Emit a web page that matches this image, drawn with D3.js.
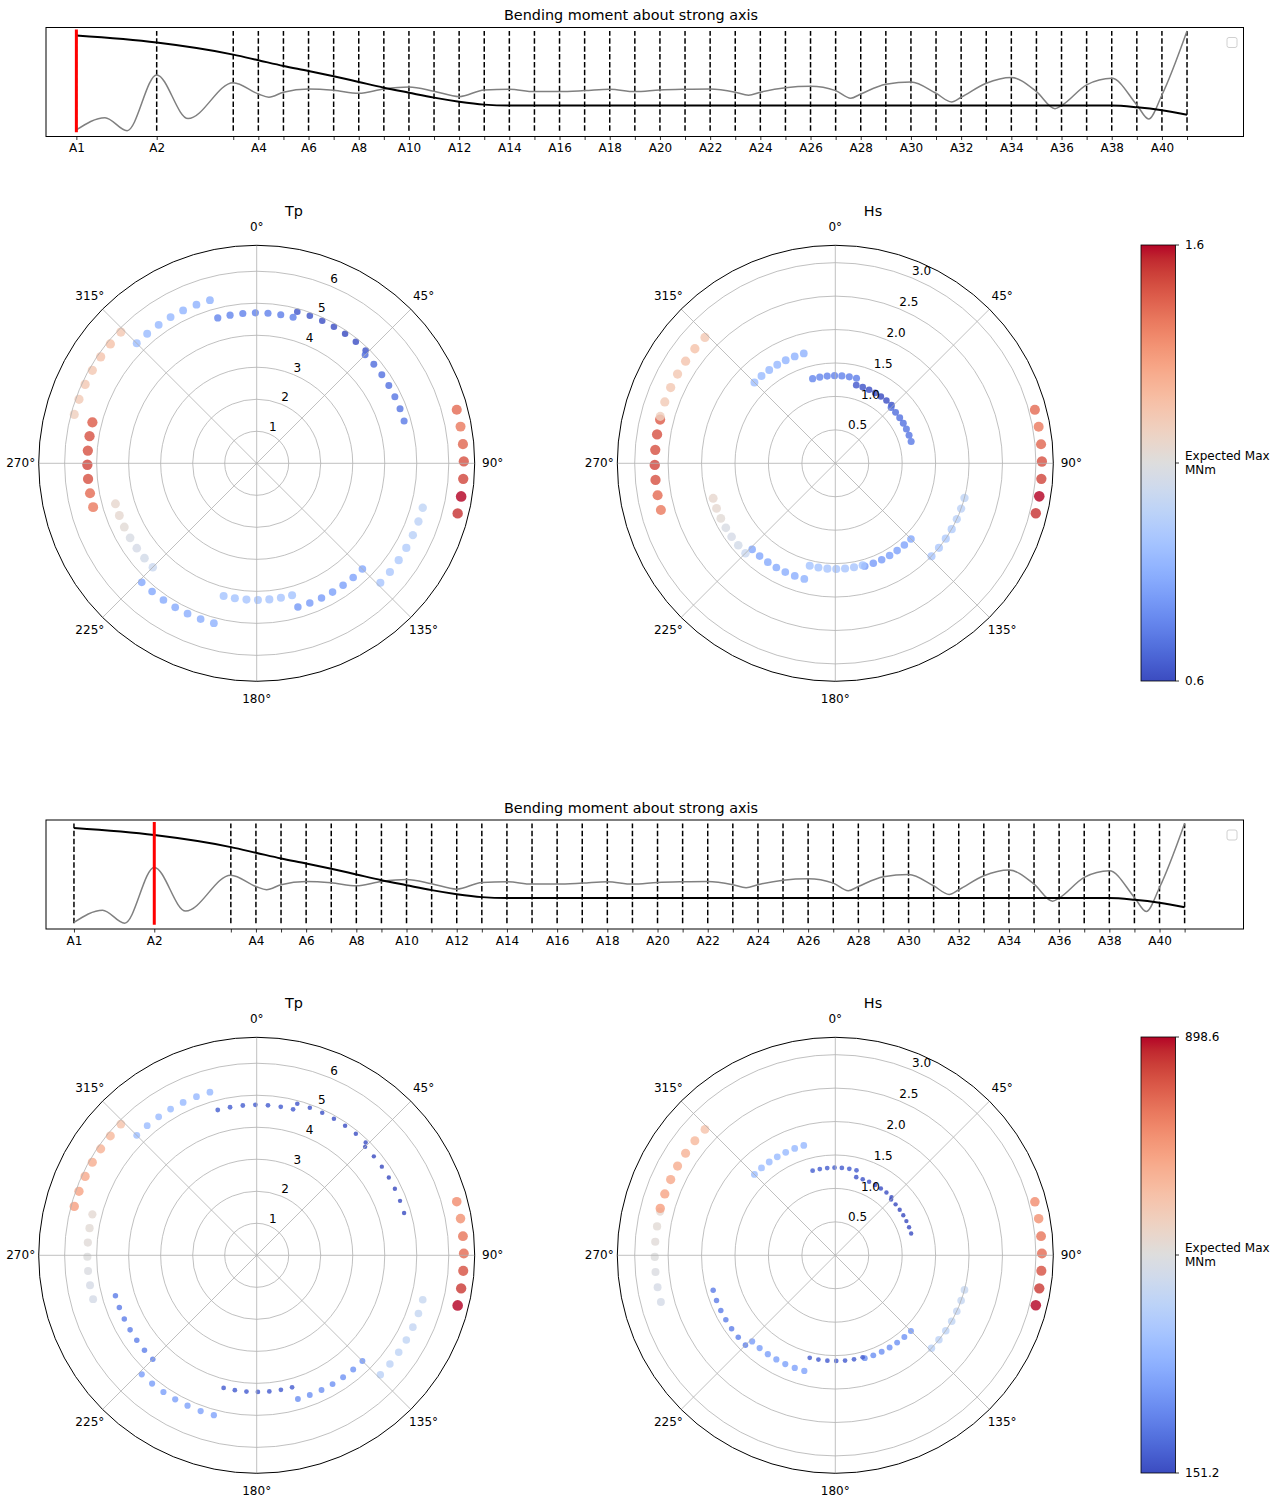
<!DOCTYPE html>
<html><head><meta charset="utf-8">
<script src="https://cdn.jsdelivr.net/npm/d3@7"></script>
<style>
body{margin:0;background:#fff}
text{font-family:"DejaVu Sans",sans-serif;fill:#000}
</style>
</head><body>
<svg id="c" width="1287" height="1499"></svg>
<script>
// ---------------- DATA ----------------
const stations = ["A1","A2","A3","A4","A5","A6","A7","A8","A9","A10","A11","A12","A13","A14","A15","A16","A17","A18","A19","A20","A21","A22","A23","A24","A25","A26","A27","A28","A29","A30","A31","A32","A33","A34","A35","A36","A37","A38","A39","A40","A41"];
const stationPos = [0,3.2,6.25,7.25,8.25,9.25,10.25,11.25,12.25,13.25,14.25,15.25,16.25,17.25,18.25,19.25,20.25,21.25,22.25,23.25,24.25,25.25,26.25,27.25,28.25,29.25,30.25,31.25,32.25,33.25,34.25,35.25,36.25,37.25,38.25,39.25,40.25,41.25,42.25,43.25,44.25];
const tickLabels = ["A1","A2","","A4","","A6","","A8","","A10","","A12","","A14","","A16","","A18","","A20","","A22","","A24","","A26","","A28","","A30","","A32","","A34","","A36","","A38","","A40",""];
const blackLine = [0.968,0.897,0.775,0.718,0.660,0.610,0.556,0.498,0.440,0.389,0.339,0.298,0.268,0.258,0.258,0.258,0.258,0.258,0.258,0.258,0.258,0.258,0.258,0.258,0.258,0.258,0.258,0.258,0.258,0.258,0.258,0.258,0.258,0.258,0.258,0.258,0.258,0.258,0.241,0.211,0.166];
const grayX = [0,1.14,2.02,3.2,4.45,6.25,7.25,7.67,8.25,9.25,10.25,11.25,12.25,13.25,14.25,15.25,16.25,17.25,18.25,19.25,20.25,21.25,22.25,23.25,24.25,25.25,26.25,26.78,27.25,28.25,29.25,30.25,30.85,31.25,32.25,33.25,34.25,34.87,35.25,36.25,37.25,38.25,38.99,39.25,40.25,41.25,42.25,42.72,43.25,44.25];
const grayY = [0.011,0.136,0.004,0.569,0.126,0.491,0.376,0.343,0.394,0.427,0.414,0.383,0.427,0.447,0.404,0.349,0.417,0.424,0.400,0.400,0.410,0.424,0.400,0.417,0.424,0.427,0.394,0.363,0.394,0.440,0.454,0.410,0.333,0.376,0.475,0.498,0.383,0.295,0.343,0.485,0.542,0.400,0.227,0.258,0.468,0.535,0.265,0.123,0.366,1.015];
const selectedStations = ["A1","A2"];
const chartTitle = "Bending moment about strong axis";

const directions = [
 345,349.8,354.7,359.5,4.3,9.2,14,
 15,19.8,24.7,29.5,34.3,39.2,44,
 45,49.8,54.7,59.5,64.3,69.2,74,
 75,79.8,84.7,89.5,94.3,99.2,104,
 105,109.8,114.7,119.5,124.3,129.2,134,
 135,139.8,144.7,149.5,154.3,159.2,164,
 165,169.8,174.7,179.5,184.3,189.2,194,
 195,199.8,204.7,209.5,214.3,219.2,224,
 225,229.8,234.7,239.5,244.3,249.2,254,
 255,259.8,264.7,269.5,274.3,279.2,284,
 285,289.8,294.7,299.5,304.3,309.2,314,
 315,319.8,324.7,329.5,334.3,339.2,344];
const tp = [
 4.70,4.70,4.70,4.70,4.70,4.70,4.70,
 4.90,4.90,4.90,4.90,4.90,4.90,4.90,
 4.79,4.79,4.79,4.79,4.79,4.79,4.79,
 6.47,6.47,6.47,6.47,6.47,6.47,6.47,
 5.37,5.37,5.37,5.37,5.37,5.37,5.37,
 4.67,4.67,4.67,4.67,4.67,4.67,4.67,
 4.27,4.27,4.27,4.27,4.27,4.27,4.27,
 5.17,5.17,5.17,5.17,5.17,5.17,5.17,
 4.59,4.59,4.59,4.59,4.59,4.59,4.59,
 5.29,5.29,5.29,5.29,5.29,5.29,5.29,
 5.90,5.90,5.90,5.90,5.90,5.90,5.90,
 5.30,5.30,5.30,5.30,5.30,5.30,5.30];
const hs = [
 1.31,1.31,1.31,1.31,1.31,1.31,1.31,
 1.21,1.21,1.21,1.21,1.21,1.21,1.21,
 1.18,1.18,1.18,1.18,1.18,1.18,1.18,
 3.09,3.09,3.09,3.09,3.09,3.09,3.09,
 2.00,2.00,2.00,2.00,2.00,2.00,2.00,
 1.60,1.60,1.60,1.60,1.60,1.60,1.60,
 1.58,1.58,1.58,1.58,1.58,1.58,1.58,
 1.79,1.79,1.79,1.79,1.79,1.79,1.79,
 1.90,1.90,1.90,1.90,1.90,1.90,1.90,
 2.70,2.70,2.70,2.70,2.70,2.70,2.70,
 2.71,2.71,2.71,2.71,2.71,2.71,2.71,
 1.71,1.71,1.71,1.71,1.71,1.71,1.71];
const momentA1 = [
 0.74,0.74,0.73,0.73,0.73,0.72,0.72,
 0.63,0.62,0.61,0.61,0.60,0.61,0.62,
 0.68,0.68,0.69,0.69,0.70,0.70,0.71,
 1.45,1.42,1.46,1.50,1.52,1.60,1.55,
 1.00,0.99,0.98,0.96,0.95,0.94,0.93,
 0.83,0.82,0.81,0.81,0.80,0.80,0.79,
 0.92,0.93,0.93,0.93,0.93,0.92,0.92,
 0.86,0.85,0.85,0.84,0.84,0.83,0.83,
 1.03,1.06,1.07,1.08,1.12,1.13,1.14,
 1.42,1.45,1.50,1.52,1.50,1.50,1.48,
 1.18,1.20,1.21,1.21,1.22,1.23,1.21,
 0.90,0.89,0.88,0.88,0.87,0.86,0.86];
const momentA2 = [
 186,185,184,183,182,181,180,
 170,168,165,163,160,158,156,
 155,153,152,151.2,152,153,155,
 734,726,771,786,824,854,898.6,
 470,465,460,455,450,445,440,
 285,283,281,279,277,275,273,
 182,181,180,180,180,181,182,
 315,313,311,309,307,305,303,
 245,244,243,242,241,240,239,
 500,505,515,525,535,540,545,
 700,690,680,670,660,645,620,
 375,372,370,368,366,364,362];
const cbRangeA1 = [0.6, 1.6];
const cbLabelsA1 = ["0.6", "1.6"];
const cbRangeA2 = [151.2, 898.6];
const cbLabelsA2 = ["151.2", "898.6"];
const cbMidLabel = ["Expected Max", "MNm"];
const tpTicks = [1,2,3,4,5,6];
const hsTicks = [0.5,1.0,1.5,2.0,2.5,3.0];
const thetaTicks = [0,45,90,135,180,225,270,315];

// ---------------- COLORMAP (coolwarm) ----------------
const CW = [[59,76,192],[68,90,204],[77,104,215],[87,117,225],[98,130,234],[108,142,241],[119,154,247],[130,165,251],[141,176,254],[152,185,255],[163,194,255],[174,201,253],[184,208,249],[194,213,244],[204,217,238],[213,219,230],[221,221,221],[229,216,209],[236,211,197],[241,204,185],[245,196,173],[247,187,160],[247,177,148],[247,166,135],[244,154,123],[241,141,111],[236,127,99],[229,112,88],[222,96,77],[213,80,66],[203,62,56],[192,40,47],[180,4,38]];
function coolwarm(t){
  t = Math.max(0, Math.min(1, t));
  const n = CW.length - 1;
  const i = Math.min(n - 1, Math.floor(t * n));
  const f = t * n - i;
  const a = CW[i], b = CW[i+1];
  return `rgb(${Math.round(a[0]+(b[0]-a[0])*f)},${Math.round(a[1]+(b[1]-a[1])*f)},${Math.round(a[2]+(b[2]-a[2])*f)})`;
}

const svg = d3.select("#c");
svg.append("rect").attr("width",1287).attr("height",1499).attr("fill","#fff");

// ---------------- LINE CHART ----------------
function lineChart(oy, xDomain, selected){
  const box = {x0:46, x1:1243.5, y0:27.5+oy, y1:136.5+oy};
  const g = svg.append("g");
  const x = d3.scaleLinear().domain(xDomain).range([box.x0, box.x1]);
  const y = d3.scaleLinear().domain([-0.0553, 1.0502]).range([box.y1, box.y0]);
  const clip = "clip"+Math.round(oy);
  g.append("clipPath").attr("id",clip).append("rect")
    .attr("x",box.x0).attr("y",box.y0).attr("width",box.x1-box.x0).attr("height",box.y1-box.y0);
  const inner = g.append("g").attr("clip-path",`url(#${clip})`);
  const gmin = d3.min(grayY), gmax = d3.max(grayY);
  inner.selectAll("line.st").data(stationPos).join("line")
    .attr("x1",d=>x(d)).attr("x2",d=>x(d)).attr("y1",y(gmin)).attr("y2",y(gmax))
    .attr("stroke","#000").attr("stroke-width",1.5).attr("stroke-dasharray","5.5,2.4");
  const grayPts = grayX.map((d,i)=>[d,grayY[i]]);
  inner.append("path").attr("d", d3.line().x(d=>x(d[0])).y(d=>y(d[1])).curve(d3.curveMonotoneX)(grayPts))
    .attr("fill","none").attr("stroke","#808080").attr("stroke-width",1.5);
  const blackPts = stationPos.map((d,i)=>[d,blackLine[i]]);
  inner.append("path").attr("d", d3.line().x(d=>x(d[0])).y(d=>y(d[1])).curve(d3.curveMonotoneX)(blackPts))
    .attr("fill","none").attr("stroke","#000").attr("stroke-width",2);
  const si = stations.indexOf(selected);
  inner.append("line").attr("x1",x(stationPos[si])).attr("x2",x(stationPos[si]))
    .attr("y1",y(gmin)+1.5).attr("y2",y(gmax)-1.5).attr("stroke","#ff0000").attr("stroke-width",3);
  g.append("rect").attr("x",box.x0).attr("y",box.y0).attr("width",box.x1-box.x0).attr("height",box.y1-box.y0)
    .attr("fill","none").attr("stroke","#000").attr("stroke-width",1);
  const ax = d3.axisBottom(x).tickValues(stationPos).tickFormat((d,i)=>tickLabels[i]).tickSize(3.5).tickPadding(3.5);
  const axg = g.append("g").attr("transform",`translate(0,${box.y1})`).call(ax);
  axg.select(".domain").remove();
  axg.selectAll("text").attr("font-size",12).attr("font-family","DejaVu Sans").attr("fill","#000");
  axg.selectAll("line").attr("stroke","#000").attr("stroke-width",0.8);
  g.append("rect").attr("x",1227).attr("y",box.y0+10).attr("width",10).attr("height",10).attr("rx",2)
    .attr("fill","#fff").attr("stroke","#d0d0d0").attr("stroke-width",1);
  g.append("text").attr("x",631).attr("y",box.y0-12.5).attr("text-anchor","middle")
    .attr("dominant-baseline","central").attr("font-size",14.4).text(chartTitle);
}

// ---------------- POLAR ----------------
function polar(cx, cy, rmax, radius, rTicks, rFmt, values, vmin, vmax, title, tx, ty){
  const R = 218;
  const g = svg.append("g");
  const rs = d3.scaleLinear().domain([0, rmax]).range([0, R]);
  const rad = d => d*Math.PI/180;
  const px = (th, rp) => cx + rp*Math.sin(rad(th));
  const py = (th, rp) => cy - rp*Math.cos(rad(th));
  const cs = d3.scaleLinear().domain([vmin, vmax]).range([0,1]);
  const sz = v => 5.3*Math.sqrt(v/vmax);
  const pts = directions.map((d,i)=>({th:d, r:radius[i], v:values[i]}));
  g.selectAll("circle.pt").data(pts).join("circle")
    .attr("cx",d=>px(d.th, rs(d.r))).attr("cy",d=>py(d.th, rs(d.r)))
    .attr("r",d=>sz(d.v)).attr("fill",d=>coolwarm(cs(d.v))).attr("fill-opacity",0.82);
  g.selectAll("circle.ring").data(rTicks).join("circle")
    .attr("cx",cx).attr("cy",cy).attr("r",d=>rs(d)).attr("fill","none")
    .attr("stroke","#b0b0b0").attr("stroke-width",0.8);
  g.selectAll("line.sp").data(thetaTicks).join("line")
    .attr("x1",cx).attr("y1",cy).attr("x2",d=>px(d,R)).attr("y2",d=>py(d,R))
    .attr("stroke","#b0b0b0").attr("stroke-width",0.8);
  g.append("circle").attr("cx",cx).attr("cy",cy).attr("r",R).attr("fill","none")
    .attr("stroke","#000").attr("stroke-width",1);
  g.selectAll("text.th").data(thetaTicks).join("text")
    .attr("x",d=>px(d,R+18)).attr("y",d=>py(d,R+18)).attr("text-anchor","middle")
    .attr("dominant-baseline","central").attr("font-size",12).text(d=>d+"°");
  g.selectAll("text.rl").data(rTicks).join("text")
    .attr("x",d=>px(22.5,rs(d))).attr("y",d=>py(22.5,rs(d))-3).attr("text-anchor","start")
    .attr("font-size",12).text(rFmt);
  g.append("text").attr("x",tx).attr("y",ty).attr("text-anchor","middle")
    .attr("dominant-baseline","central").attr("font-size",14.4).text(title);
}

// ---------------- COLORBAR ----------------
function colorbar(y0, y1, range, labels, id){
  const x0 = 1141, x1 = 1175.5;
  const defs = svg.append("defs");
  const grad = defs.append("linearGradient").attr("id",id).attr("x1",0).attr("y1",1).attr("x2",0).attr("y2",0);
  d3.range(0, 1.0001, 1/64).forEach(t=>{
    grad.append("stop").attr("offset",t).attr("stop-color",coolwarm(t));
  });
  svg.append("rect").attr("x",x0).attr("y",y0).attr("width",x1-x0).attr("height",y1-y0)
    .attr("fill",`url(#${id})`).attr("stroke","#000").attr("stroke-width",0.8);
  const s = d3.scaleLinear().domain(range).range([y1, y0]);
  const ticks = [range[0], (range[0]+range[1])/2, range[1]];
  ticks.forEach(t=>{
    svg.append("line").attr("x1",x1).attr("x2",x1+3.5).attr("y1",s(t)).attr("y2",s(t))
      .attr("stroke","#000").attr("stroke-width",0.8);
  });
  [0,1].forEach(i=>{
    svg.append("text").attr("x",x1+9.5).attr("y",s(range[i])).attr("dominant-baseline","central")
      .attr("font-size",12).text(labels[i]);
  });
  const mid = s(ticks[1]);
  const t = svg.append("text").attr("x",x1+9.5).attr("font-size",12);
  t.append("tspan").attr("x",x1+9.5).attr("y",mid-6.7).attr("dominant-baseline","central").text(cbMidLabel[0]);
  t.append("tspan").attr("x",x1+9.5).attr("y",mid+6.7).attr("dominant-baseline","central").text(cbMidLabel[1]);
}

// ---------------- DRAW ----------------
lineChart(0, [-1.21, 46.5], selectedStations[0]);
lineChart(792.5, [-1.114, 46.596], selectedStations[1]);

polar(256.7, 463.3, 6.81, tp, tpTicks, d=>d3.format("d")(d), momentA1, cbRangeA1[0], cbRangeA1[1], "Tp", 294, 211);
polar(835.3, 463.3, 3.26, hs, hsTicks, d=>d3.format(".1f")(d), momentA1, cbRangeA1[0], cbRangeA1[1], "Hs", 873, 211);
polar(256.7, 1255.3, 6.81, tp, tpTicks, d=>d3.format("d")(d), momentA2, cbRangeA2[0], cbRangeA2[1], "Tp", 294, 1003);
polar(835.3, 1255.3, 3.26, hs, hsTicks, d=>d3.format(".1f")(d), momentA2, cbRangeA2[0], cbRangeA2[1], "Hs", 873, 1003);

colorbar(245, 681, cbRangeA1, cbLabelsA1, "cb1");
colorbar(1037, 1473, cbRangeA2, cbLabelsA2, "cb2");
</script>
</body></html>
